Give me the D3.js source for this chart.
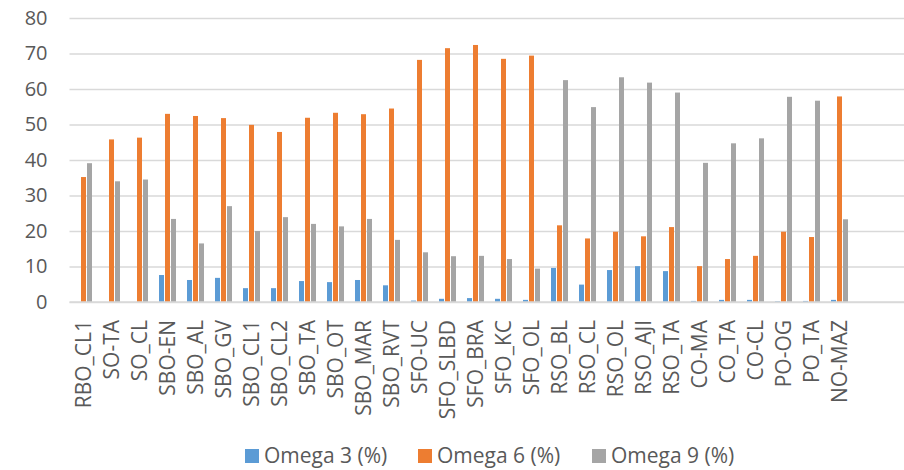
<!DOCTYPE html>
<html>
<head>
<meta charset="utf-8">
<script src="https://cdn.jsdelivr.net/npm/d3@7"></script>
<style>
  html, body { margin: 0; padding: 0; background: #ffffff; }
  svg { display: block; font-family: "Open Sans", "Noto Sans", sans-serif; }
</style>
</head>
<body>
<svg id="chart" width="904" height="470"></svg>
<script>
// Oil samples
const categories = ["RBO_CL1", "SO-TA", "SO_CL", "SBO-EN", "SBO_AL", "SBO_GV", "SBO_CL1", "SBO_CL2",
  "SBO_TA", "SBO_OT", "SBO_MAR", "SBO_RVT", "SFO-UC", "SFO_SLBD", "SFO_BRA", "SFO_KC", "SFO_OL",
  "RSO_BL", "RSO_CL", "RSO_OL", "RSO_AJI", "RSO_TA", "CO-MA", "CO_TA", "CO-CL", "PO-OG", "PO_TA", "NO-MAZ"];

// Fatty acid shares (%)
const omega3 = [0, 0, 0, 7.6, 6.2, 6.8, 3.9, 3.9, 5.9, 5.6, 6.2, 4.7, 0.4, 0.9, 1.1, 0.9, 0.6,
  9.6, 4.9, 9.0, 10.1, 8.7, 0.3, 0.6, 0.6, 0.2, 0.3, 0.6];
const omega6 = [35.2, 45.8, 46.3, 53.0, 52.4, 51.8, 49.9, 47.9, 51.9, 53.3, 52.9, 54.5, 68.2, 71.5,
  72.4, 68.5, 69.4, 21.6, 17.9, 19.8, 18.5, 21.1, 10.1, 12.1, 13.0, 19.8, 18.3, 57.9];
const omega9 = [39.1, 34.0, 34.5, 23.4, 16.5, 27.0, 20.0, 23.9, 22.0, 21.3, 23.4, 17.5, 14.0, 12.9,
  13.0, 12.1, 9.4, 62.5, 54.9, 63.3, 61.8, 59.0, 39.2, 44.7, 46.1, 57.8, 56.7, 23.3];

const seriesNames = ["Omega 3 (%)", "Omega 6 (%)", "Omega 9 (%)"];
const seriesValues = [omega3, omega6, omega9];
const seriesColors = ["#5b9bd5", "#ed7d31", "#a5a5a5"];

const yTicks = [0, 10, 20, 30, 40, 50, 60, 70, 80];

const svg = d3.select("#chart");
const plotLeft = 69.5, plotTop = 18, plotBottom = 302, plotRight = 904;
const step = 28;

const x = d3.scaleBand()
  .domain(categories)
  .range([plotLeft, plotLeft + step * categories.length])
  .padding(0);

const groupWidth = 17;
const x1 = d3.scaleBand()
  .domain(seriesNames)
  .range([0, groupWidth])
  .paddingInner(1 / 6)
  .paddingOuter(0);

const y = d3.scaleLinear().domain([0, 80]).range([plotBottom, plotTop]);

const textColor = "#595959";
const gridColor = "#d9d9d9";

// Horizontal gridlines and y labels
const yAxis = svg.append("g")
  .attr("transform", `translate(${plotLeft},0)`)
  .call(d3.axisLeft(y).tickValues(yTicks).tickSize(-(plotRight - plotLeft)).tickPadding(22));
yAxis.select(".domain").remove();
yAxis.selectAll(".tick line").attr("stroke", gridColor).attr("stroke-width", 1.4);
yAxis.selectAll(".tick text")
  .attr("fill", textColor)
  .style("font-size", "20px")
  .style("font-family", "'Open Sans', sans-serif");

// Bars
const groups = svg.append("g")
  .selectAll("g")
  .data(categories)
  .join("g")
  .attr("transform", d => `translate(${x(d) + (x.bandwidth() - groupWidth) / 2},0)`);

groups.selectAll("rect")
  .data((d, i) => seriesNames.map((s, k) => ({ s, k, v: seriesValues[k][i] })))
  .join("rect")
  .attr("x", d => x1(d.s))
  .attr("width", x1.bandwidth())
  .attr("y", d => y(d.v))
  .attr("height", d => y(0) - y(d.v))
  .attr("fill", d => seriesColors[d.k]);

// Category axis with rotated labels
const xAxis = svg.append("g")
  .attr("transform", `translate(0,${plotBottom})`)
  .call(d3.axisBottom(x).tickSize(0).tickPadding(0));
xAxis.select(".domain").remove();
xAxis.selectAll(".tick text")
  .attr("fill", textColor)
  .style("font-size", "21px")
  .style("font-family", "'Open Sans', sans-serif")
  .attr("text-anchor", "end")
  .attr("dy", "0.36em")
  .attr("transform", "translate(0,18) rotate(-90)")
  .attr("x", 0)
  .attr("y", 0);

// Baseline
svg.append("line")
  .attr("x1", plotLeft).attr("x2", plotRight)
  .attr("y1", y(0)).attr("y2", y(0))
  .attr("stroke", gridColor).attr("stroke-width", 1.4);

// Legend
const legendX = [245, 418, 592];
const legend = svg.append("g")
  .selectAll("g")
  .data(seriesNames)
  .join("g")
  .attr("transform", (d, i) => `translate(${legendX[i]},456)`);
legend.append("rect")
  .attr("x", 0).attr("y", -7)
  .attr("width", 14).attr("height", 14)
  .attr("fill", (d, i) => seriesColors[i]);
legend.append("text")
  .attr("x", 19).attr("y", 0)
  .attr("dy", "0.35em")
  .attr("fill", textColor)
  .style("font-size", "21px")
  .text(d => d);
</script>
</body>
</html>
